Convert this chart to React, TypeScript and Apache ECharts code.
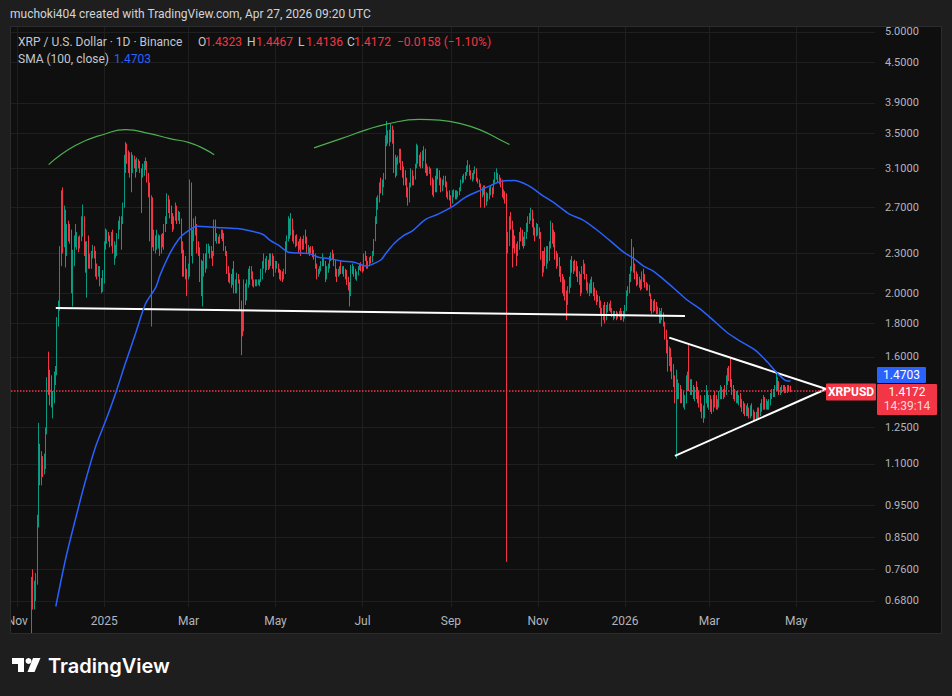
import React, { useEffect, useRef } from "react";
import * as echarts from "echarts";

// ---------- DATA (daily candles: [high, low, close]; open = previous close) ----------
const firstOpen = 0.6;
const nov24 = [[0.74,0.58,0.72],[0.76,0.66,0.69],[0.73,0.66,0.71],[0.75,0.68,0.73],[0.92,0.72,0.9],[1.27,0.88,1.13],[1.18,1.02,1.05],[1.15,1.02,1.13],[1.13,1.05,1.08],[1.14,1.06,1.11],[1.25,1.08,1.23],[1.49,1.22,1.45],[1.63,1.4,1.44],[1.53,1.35,1.4],[1.5,1.34,1.36],[1.42,1.29,1.38],[1.52,1.36,1.48],[1.55,1.45,1.52],[1.84,1.5,1.8],[1.95,1.78,1.9]];
const dec24 = [[2.36,1.88,2.3],[2.87,2.2,2.55],[2.9,2.3,2.5],[2.72,2.35,2.62],[2.68,2.19,2.35],[2.55,2.28,2.5],[2.58,2.4,2.48],[2.55,2.38,2.44],[2.5,2.0,2.17],[2.33,1.91,2.25],[2.45,2.2,2.41],[2.55,2.35,2.42],[2.48,2.33,2.42],[2.44,2.31,2.36],[2.45,2.34,2.44],[2.62,2.4,2.46],[2.73,2.44,2.6],[2.62,2.28,2.3],[2.4,2.15,2.21],[2.4,1.97,2.37],[2.45,2.18,2.23],[2.3,2.18,2.24],[2.32,2.18,2.28],[2.37,2.26,2.33],[2.36,2.26,2.3],[2.32,2.12,2.16],[2.22,2.1,2.15],[2.2,2.12,2.18],[2.2,2.05,2.09],[2.11,2.0,2.06],[2.17,2.01,2.08]];
const jan25 = [[2.4,2.07,2.36],[2.51,2.33,2.44],[2.5,2.38,2.47],[2.48,2.4,2.44],[2.45,2.35,2.4],[2.48,2.36,2.43],[2.5,2.3,2.32],[2.4,2.21,2.33],[2.37,2.26,2.31],[2.47,2.28,2.45],[2.58,2.42,2.55],[2.62,2.5,2.52],[2.62,2.33,2.6],[2.75,2.55,2.73],[3.25,2.7,3.22],[3.4,3.05,3.3],[3.38,3.15,3.24],[3.3,3.05,3.17],[3.28,3.0,3.2],[3.28,2.85,3.12],[3.25,3.05,3.18],[3.24,3.1,3.14],[3.2,3.0,3.1],[3.22,3.06,3.15],[3.2,3.1,3.13],[3.18,3.05,3.08],[3.1,2.65,3.06],[3.15,3.0,3.06],[3.18,3.02,3.12],[3.22,3.08,3.18],[3.18,2.95,3.02]];
const feb25 = [[3.05,2.8,2.85],[2.95,2.4,2.48],[2.82,1.78,2.7],[2.8,2.35,2.45],[2.5,2.32,2.4],[2.45,2.3,2.35],[2.5,2.33,2.37],[2.46,2.34,2.43],[2.45,2.28,2.38],[2.46,2.3,2.43],[2.47,2.35,2.4],[2.55,2.33,2.52],[2.62,2.48,2.58],[2.84,2.55,2.78],[2.82,2.65,2.75],[2.78,2.6,2.65],[2.72,2.55,2.62],[2.65,2.48,2.55],[2.62,2.5,2.6],[2.75,2.58,2.7],[2.72,2.55,2.62],[2.67,2.58,2.62],[2.66,2.55,2.58],[2.6,2.3,2.33],[2.4,2.12,2.28],[2.33,2.12,2.17],[2.28,2.1,2.15],[2.18,1.98,2.14]];
const mar25 = [[2.22,2.1,2.16],[2.98,2.12,2.92],[2.95,2.28,2.38],[2.5,2.22,2.46],[2.6,2.4,2.55],[2.62,2.45,2.5],[2.55,2.3,2.35],[2.4,2.28,2.32],[2.35,2.08,2.12],[2.25,1.98,2.05],[2.24,1.91,2.2],[2.3,2.12,2.25],[2.3,2.15,2.2],[2.38,2.18,2.34],[2.38,2.3,2.34],[2.36,2.26,2.28],[2.36,2.26,2.3],[2.32,2.2,2.28],[2.59,2.28,2.52],[2.59,2.4,2.42],[2.47,2.38,2.42],[2.44,2.38,2.4],[2.46,2.38,2.45],[2.5,2.42,2.48],[2.5,2.4,2.44],[2.47,2.32,2.35],[2.36,2.28,2.32],[2.3,2.14,2.17],[2.2,2.08,2.12],[2.15,2.07,2.1],[2.14,2.04,2.08]];
const apr25 = [[2.18,2.06,2.15],[2.24,2.0,2.03],[2.1,2.0,2.05],[2.15,2.0,2.13],[2.14,2.07,2.1],[2.1,1.88,1.92],[1.95,1.61,1.8],[1.88,1.72,1.78],[2.1,1.75,2.05],[2.07,1.92,1.96],[2.1,1.95,2.08],[2.18,2.04,2.15],[2.2,2.06,2.12],[2.2,2.1,2.14],[2.16,2.05,2.06],[2.1,2.04,2.08],[2.1,2.05,2.06],[2.1,2.05,2.08],[2.1,2.06,2.08],[2.1,2.05,2.09],[2.18,2.08,2.15],[2.24,2.1,2.22],[2.3,2.18,2.22],[2.26,2.15,2.2],[2.28,2.17,2.23],[2.25,2.17,2.2],[2.3,2.18,2.28],[2.3,2.2,2.29],[2.3,2.18,2.25],[2.28,2.12,2.2]];
const may25 = [[2.24,2.15,2.2],[2.24,2.18,2.21],[2.22,2.15,2.17],[2.18,2.1,2.14],[2.17,2.09,2.13],[2.16,2.08,2.12],[2.18,2.1,2.15],[2.4,2.14,2.35],[2.45,2.32,2.42],[2.62,2.4,2.58],[2.6,2.42,2.48],[2.65,2.45,2.55],[2.6,2.4,2.45],[2.5,2.38,2.42],[2.45,2.35,2.4],[2.46,2.36,2.38],[2.4,2.3,2.35],[2.42,2.33,2.4],[2.44,2.28,2.38],[2.42,2.33,2.37],[2.45,2.33,2.43],[2.5,2.38,2.41],[2.44,2.3,2.32],[2.37,2.3,2.34],[2.35,2.28,2.33],[2.36,2.3,2.32],[2.36,2.27,2.31],[2.33,2.25,2.27],[2.3,2.18,2.2],[2.22,2.1,2.14],[2.18,2.12,2.16]];
const jun25 = [[2.2,2.14,2.18],[2.24,2.16,2.22],[2.3,2.2,2.24],[2.26,2.2,2.22],[2.24,2.08,2.11],[2.2,2.1,2.17],[2.22,2.15,2.19],[2.28,2.18,2.27],[2.31,2.24,2.29],[2.33,2.25,2.27],[2.3,2.2,2.22],[2.25,2.12,2.15],[2.18,2.08,2.14],[2.18,2.12,2.16],[2.2,2.13,2.18],[2.24,2.14,2.17],[2.2,2.14,2.17],[2.2,2.12,2.14],[2.18,2.1,2.12],[2.17,2.06,2.09],[2.12,2.02,2.05],[2.08,1.91,2.0],[2.21,1.98,2.18],[2.22,2.14,2.18],[2.2,2.12,2.15],[2.18,2.1,2.12],[2.16,2.09,2.14],[2.2,2.13,2.18],[2.22,2.17,2.2],[2.23,2.16,2.19]];
const jul25 = [[2.21,2.15,2.17],[2.3,2.16,2.28],[2.32,2.24,2.27],[2.28,2.18,2.2],[2.24,2.18,2.22],[2.27,2.2,2.25],[2.28,2.22,2.24],[2.32,2.23,2.3],[2.42,2.28,2.4],[2.62,2.4,2.58],[2.8,2.55,2.75],[2.82,2.68,2.77],[2.95,2.75,2.88],[3.0,2.84,2.86],[2.98,2.82,2.95],[3.05,2.9,3.01],[3.48,2.98,3.45],[3.66,3.35,3.5],[3.54,3.38,3.44],[3.55,3.35,3.5],[3.62,3.4,3.56],[3.6,3.38,3.52],[3.55,3.05,3.15],[3.25,3.0,3.12],[3.22,3.02,3.18],[3.24,3.14,3.19],[3.32,3.16,3.28],[3.32,3.08,3.12],[3.18,3.0,3.08],[3.12,2.92,3.0],[3.08,2.92,2.96]];
const aug25 = [[3.0,2.8,2.84],[2.9,2.72,2.76],[2.95,2.75,2.92],[3.1,2.9,3.05],[3.08,2.92,2.98],[3.02,2.92,3.0],[3.15,2.98,3.12],[3.38,3.1,3.3],[3.36,3.15,3.2],[3.25,3.12,3.18],[3.28,3.1,3.14],[3.3,3.1,3.26],[3.35,3.18,3.3],[3.32,3.05,3.1],[3.15,3.02,3.08],[3.12,3.02,3.08],[3.12,3.04,3.1],[3.1,2.92,2.98],[3.0,2.82,2.86],[2.98,2.8,2.95],[3.02,2.85,2.88],[3.1,2.85,3.05],[3.1,2.98,3.02],[3.08,2.92,2.98],[3.0,2.85,2.88],[2.98,2.86,2.95],[3.02,2.92,2.98],[3.02,2.9,2.95],[2.96,2.8,2.82],[2.86,2.78,2.83],[2.87,2.77,2.79]];
const sep25 = [[2.82,2.7,2.77],[2.87,2.74,2.84],[2.88,2.8,2.85],[2.87,2.78,2.81],[2.87,2.78,2.82],[2.86,2.8,2.84],[2.9,2.82,2.88],[2.98,2.86,2.96],[3.02,2.94,2.98],[3.04,2.95,3.0],[3.06,2.98,3.04],[3.13,3.02,3.1],[3.19,3.06,3.12],[3.14,3.02,3.05],[3.08,2.98,3.0],[3.05,2.96,3.02],[3.08,2.98,3.05],[3.12,3.04,3.08],[3.1,2.96,2.99],[3.0,2.94,2.97],[2.98,2.9,2.93],[2.94,2.7,2.83],[2.9,2.8,2.87],[2.92,2.82,2.9],[2.92,2.7,2.75],[2.85,2.72,2.8],[2.84,2.76,2.81],[2.9,2.78,2.85],[2.92,2.82,2.87],[2.9,2.8,2.84]];
const oct25 = [[2.98,2.83,2.96],[3.06,2.94,3.02],[3.1,2.98,3.03],[3.05,2.95,2.97],[3.03,2.93,2.98],[3.0,2.9,2.96],[2.98,2.8,2.83],[2.88,2.78,2.85],[2.86,2.74,2.8],[2.84,0.78,2.36],[2.48,2.3,2.38],[2.62,2.36,2.58],[2.66,2.5,2.55],[2.58,2.19,2.42],[2.5,2.34,2.4],[2.45,2.3,2.33],[2.38,2.2,2.3],[2.4,2.28,2.37],[2.48,2.33,2.45],[2.52,2.4,2.42],[2.5,2.36,2.4],[2.44,2.34,2.38],[2.48,2.36,2.45],[2.56,2.42,2.52],[2.62,2.48,2.58],[2.65,2.55,2.62],[2.7,2.58,2.63],[2.68,2.52,2.56],[2.6,2.45,2.5],[2.52,2.4,2.44],[2.56,2.44,2.52]];
const nov25 = [[2.55,2.45,2.48],[2.52,2.42,2.46],[2.48,2.25,2.3],[2.32,2.12,2.2],[2.32,2.15,2.28],[2.35,2.2,2.24],[2.36,2.18,2.32],[2.36,2.22,2.27],[2.4,2.24,2.36],[2.58,2.34,2.53],[2.56,2.38,2.42],[2.5,2.35,2.38],[2.48,2.25,2.3],[2.32,2.18,2.25],[2.3,2.2,2.24],[2.27,2.12,2.16],[2.2,2.08,2.12],[2.14,2.0,2.03],[2.12,1.98,2.05],[2.1,1.95,1.98],[2.02,1.82,1.95],[2.05,1.92,2.02],[2.12,2.0,2.08],[2.25,2.04,2.22],[2.28,2.15,2.2],[2.24,2.14,2.21],[2.25,2.16,2.2],[2.24,2.12,2.18],[2.2,2.08,2.12],[2.16,2.06,2.14]];
const dec25 = [[2.14,1.98,2.02],[2.2,2.0,2.16],[2.25,2.14,2.2],[2.22,2.1,2.12],[2.14,2.02,2.05],[2.08,2.0,2.05],[2.07,1.98,2.02],[2.1,2.0,2.06],[2.12,2.0,2.05],[2.08,1.98,2.02],[2.04,1.95,1.99],[2.02,1.92,1.97],[1.99,1.94,1.96],[1.98,1.9,1.93],[1.95,1.85,1.88],[1.9,1.78,1.84],[1.92,1.82,1.86],[1.94,1.8,1.83],[1.92,1.82,1.9],[1.94,1.87,1.91],[1.93,1.88,1.9],[1.95,1.87,1.88],[1.9,1.84,1.86],[1.88,1.82,1.85],[1.88,1.83,1.86],[1.88,1.82,1.84],[1.87,1.83,1.86],[1.88,1.84,1.87],[1.9,1.82,1.85],[1.88,1.82,1.86],[1.88,1.81,1.84]];
const jan26 = [[1.92,1.83,1.9],[2.02,1.88,2.0],[2.05,1.98,2.02],[2.14,2.0,2.1],[2.2,2.08,2.18],[2.42,2.16,2.32],[2.35,2.15,2.2],[2.22,2.1,2.14],[2.16,2.05,2.1],[2.14,2.06,2.09],[2.12,2.04,2.08],[2.1,2.02,2.04],[2.16,2.03,2.14],[2.18,2.08,2.12],[2.14,2.04,2.06],[2.08,2.02,2.05],[2.07,2.02,2.05],[2.06,1.98,2.0],[2.0,1.88,1.92],[1.96,1.86,1.9],[1.95,1.87,1.93],[1.96,1.88,1.91],[1.94,1.86,1.89],[1.91,1.86,1.89],[1.9,1.8,1.84],[1.88,1.8,1.86],[1.9,1.82,1.85],[1.87,1.78,1.8],[1.81,1.7,1.74],[1.76,1.62,1.68],[1.7,1.52,1.6]];
const feb26 = [[1.66,1.55,1.62],[1.65,1.52,1.58],[1.6,1.48,1.52],[1.56,1.44,1.47],[1.5,1.36,1.38],[1.53,1.12,1.46],[1.48,1.38,1.42],[1.46,1.38,1.44],[1.45,1.36,1.4],[1.43,1.36,1.38],[1.42,1.34,1.36],[1.4,1.33,1.37],[1.5,1.36,1.48],[1.52,1.42,1.5],[1.67,1.42,1.44],[1.48,1.4,1.46],[1.48,1.4,1.42],[1.45,1.38,1.4],[1.44,1.37,1.42],[1.47,1.38,1.4],[1.44,1.36,1.38],[1.42,1.34,1.36],[1.4,1.32,1.34],[1.36,1.29,1.32],[1.35,1.27,1.3],[1.4,1.29,1.38],[1.45,1.36,1.41],[1.42,1.34,1.36]];
const mar26 = [[1.4,1.33,1.38],[1.4,1.32,1.35],[1.38,1.31,1.34],[1.4,1.32,1.37],[1.42,1.34,1.36],[1.4,1.33,1.35],[1.38,1.33,1.36],[1.42,1.34,1.4],[1.45,1.38,1.43],[1.44,1.38,1.4],[1.43,1.38,1.42],[1.45,1.39,1.41],[1.5,1.4,1.48],[1.54,1.45,1.52],[1.55,1.47,1.5],[1.6,1.44,1.46],[1.48,1.4,1.42],[1.45,1.38,1.4],[1.43,1.37,1.39],[1.42,1.36,1.4],[1.42,1.36,1.37],[1.4,1.35,1.38],[1.41,1.34,1.36],[1.38,1.32,1.34],[1.37,1.31,1.33],[1.36,1.3,1.32],[1.35,1.3,1.34],[1.36,1.3,1.32],[1.34,1.29,1.31],[1.35,1.29,1.33],[1.36,1.3,1.31]];
const apr26 = [[1.33,1.28,1.3],[1.32,1.28,1.29],[1.32,1.28,1.31],[1.34,1.29,1.33],[1.34,1.29,1.31],[1.36,1.3,1.35],[1.38,1.32,1.34],[1.4,1.33,1.38],[1.39,1.33,1.35],[1.38,1.33,1.36],[1.37,1.33,1.34],[1.38,1.33,1.37],[1.41,1.35,1.4],[1.43,1.38,1.42],[1.43,1.39,1.4],[1.45,1.39,1.44],[1.52,1.42,1.47],[1.49,1.42,1.45],[1.47,1.4,1.42],[1.44,1.4,1.43],[1.45,1.41,1.44],[1.45,1.42,1.43],[1.45,1.41,1.42],[1.44,1.41,1.43],[1.45,1.41,1.44],[1.45,1.42,1.4323],[1.4467,1.4136,1.4172]];

const monthBlocks: [string, number[][]][] = [
  ["2024-11-11", nov24], ["2024-12-01", dec24], ["2025-01-01", jan25], ["2025-02-01", feb25],
  ["2025-03-01", mar25], ["2025-04-01", apr25], ["2025-05-01", may25], ["2025-06-01", jun25],
  ["2025-07-01", jul25], ["2025-08-01", aug25], ["2025-09-01", sep25], ["2025-10-01", oct25],
  ["2025-11-01", nov25], ["2025-12-01", dec25], ["2026-01-01", jan26], ["2026-02-01", feb26],
  ["2026-03-01", mar26], ["2026-04-01", apr26],
];

// SMA(100, close)
const sma100: [string, number][] = [
  ["2024-11-28",0.667],["2024-12-05",0.79],["2024-12-12",0.91],["2024-12-19",1.04],["2024-12-26",1.17],
  ["2025-01-02",1.28],["2025-01-09",1.41],["2025-01-16",1.57],["2025-01-23",1.74],["2025-01-30",1.93],
  ["2025-02-06",2.04],["2025-02-09",2.13],["2025-02-16",2.3],["2025-02-23",2.43],["2025-03-02",2.5],
  ["2025-03-07",2.53],["2025-03-21",2.52],["2025-04-04",2.51],["2025-04-13",2.49],["2025-04-22",2.46],
  ["2025-04-27",2.41],["2025-05-04",2.36],["2025-05-10",2.31],["2025-05-24",2.3],["2025-05-31",2.27],
  ["2025-06-07",2.26],["2025-06-16",2.24],["2025-06-25",2.23],["2025-07-04",2.2],["2025-07-09",2.22],
  ["2025-07-14",2.25],["2025-07-18",2.31],["2025-07-23",2.38],["2025-07-30",2.45],["2025-08-05",2.49],
  ["2025-08-14",2.59],["2025-08-23",2.64],["2025-09-02",2.71],["2025-09-11",2.8],["2025-09-20",2.86],
  ["2025-09-29",2.92],["2025-10-06",2.96],["2025-10-15",2.97],["2025-10-25",2.92],["2025-11-04",2.82],
  ["2025-11-13",2.74],["2025-11-23",2.64],["2025-12-02",2.59],["2025-12-11",2.51],["2025-12-21",2.41],
  ["2025-12-31",2.31],["2026-01-07",2.26],["2026-01-14",2.2],["2026-01-21",2.16],["2026-01-28",2.1],
  ["2026-02-06",2.02],["2026-02-14",1.95],["2026-02-23",1.89],["2026-03-05",1.81],["2026-03-14",1.74],
  ["2026-03-23",1.69],["2026-04-02",1.64],["2026-04-11",1.57],["2026-04-18",1.51],["2026-04-25",1.47],
  ["2026-04-27",1.4703],
];

// drawings
const arcLeft: [string, number][] = [["2024-11-23",3.14],["2024-12-12",3.36],["2025-01-02",3.5],["2025-01-16",3.55],["2025-02-02",3.5],["2025-02-16",3.44],["2025-03-02",3.39],["2025-03-13",3.31],["2025-03-19",3.25]];
const arcRight: [string, number][] = [["2025-05-28",3.33],["2025-06-16",3.44],["2025-07-04",3.55],["2025-07-18",3.62],["2025-08-10",3.68],["2025-08-24",3.67],["2025-09-07",3.63],["2025-09-21",3.55],["2025-10-05",3.43],["2025-10-12",3.37]];
const neckline: [string, number][] = [["2024-11-28",1.9],["2026-02-12",1.847]];
const triUpper: [string, number][] = [["2026-02-01",1.712],["2026-05-22",1.43]];
const triLower: [string, number][] = [["2026-02-05",1.131],["2026-05-22",1.43]];

const priceTicks = [5.0, 4.5, 3.9, 3.5, 3.1, 2.7, 2.3, 2.0, 1.8, 1.6, 1.25, 1.1, 0.95, 0.85, 0.76, 0.68];
const monthTicks = ["2024-11-01","2025-01-01","2025-03-01","2025-05-01","2025-07-01","2025-09-01","2025-11-01","2026-01-01","2026-03-01","2026-05-01"];
const monthNames = ["Jan","Feb","Mar","Apr","May","Jun","Jul","Aug","Sep","Oct","Nov","Dec"];

const headerText = "muchoki404 created with TradingView.com, Apr 27, 2026 09:20 UTC";
const titleText = "XRP / U.S. Dollar · 1D · Binance";
const ohlcLabels = ["O", "H", "L", "C"];
const ohlcValues = ["1.4323", "1.4467", "1.4136", "1.4172"];
const changeText = "−0.0158 (−1.10%)";
const smaTitle = "SMA (100, close)";
const smaValueText = "1.4703";
const countdown = "14:39:14";

// ---------- helpers ----------
const DAY = 86400000;
const ts = (s: string) => Date.parse(s + "T00:00:00Z");
const FONT = "Roboto, 'Noto Sans', 'DejaVu Sans', sans-serif";
const OUTER = "#1e1e1e";
const BG = "#0f0f0f";
const UP = "#089981";
const DOWN = "#f23645";
const GRIDC = "#1f1f1f";
const X_MIN = Date.UTC(2024, 9, 27, 14, 24);
const X_MAX = Date.UTC(2026, 5, 25, 5);

function buildCandles() {
  const out: number[][] = [];
  let prev = firstOpen;
  for (const [start, rows] of monthBlocks) {
    const t0 = ts(start);
    rows.forEach(([h, l, c], i) => {
      const o = prev;
      out.push([t0 + i * DAY, Math.log(o), Math.log(c), Math.log(Math.min(l, o, c)), Math.log(Math.max(h, o, c))]);
      prev = c;
    });
  }
  return out;
}
const toLine = (arr: [string, number][]) => arr.map(([d, v]) => [ts(d), Math.log(v)]);

export default function App() {
  const ref = useRef<HTMLDivElement>(null);
  useEffect(() => {
    const chart = echarts.init(ref.current!, null, { renderer: "svg" });
    const candles = buildCandles();
    const lastClose = apr26[apr26.length - 1][2];
    const tickLn = priceTicks.map((p) => Math.log(p));
    const monthTs = monthTicks.map(ts);

    const annot = (data: any, color: string, width: number, smooth: any) => ({
      type: "line", data, showSymbol: false, smooth, silent: true, z: 4,
      lineStyle: { color, width }, clip: true,
    });

    chart.setOption({
      animation: false,
      backgroundColor: BG,
      grid: { left: 11, right: 77, top: 27, bottom: 89, containLabel: false },
      xAxis: {
        type: "value", min: X_MIN, max: X_MAX, scale: true,
        axisLine: { show: false },
        axisTick: { show: false, customValues: monthTs },
        splitLine: { show: true, lineStyle: { color: GRIDC, width: 1 } },
        axisLabel: {
          customValues: monthTs,
          margin: 8, color: "#b2b5be", fontSize: 12, fontFamily: FONT,
          formatter: (v: number) => {
            const d = new Date(v);
            const m = d.getUTCMonth();
            return m === 0 ? String(d.getUTCFullYear()) : monthNames[m];
          },
        },
      },
      yAxis: {
        type: "value", position: "right", scale: true,
        min: Math.log(0.6658), max: Math.log(5.088),
        axisLine: { show: false },
        axisTick: { show: false, customValues: tickLn },
        splitLine: { show: true, lineStyle: { color: GRIDC, width: 1 } },
        axisLabel: {
          customValues: tickLn, margin: 10, color: "#b2b5be", fontSize: 11, fontFamily: FONT,
          formatter: (v: number) => Math.exp(v).toFixed(4),
        },
      },
      series: [
        {
          type: "candlestick", name: "XRPUSD", data: candles, barWidth: 0.8, z: 3,
          itemStyle: { color: UP, color0: DOWN, borderColor: UP, borderColor0: DOWN, borderWidth: 1 },
          markLine: {
            silent: true, symbol: "none", animation: false,
            label: { show: false },
            lineStyle: { color: DOWN, type: [1.5, 1.5], width: 1.5, opacity: 1 },
            data: [{ yAxis: Math.log(lastClose) }],
          },
        },
        { type: "line", name: "SMA", data: toLine(sma100), showSymbol: false, smooth: 0.3, z: 5,
          lineStyle: { color: "#2962ff", width: 1.5 }, silent: true },
        annot(toLine(arcLeft), "#4caf50", 1.2, true),
        annot(toLine(arcRight), "#4caf50", 1.2, true),
        annot(toLine(neckline), "#ffffff", 2, false),
        annot(toLine(triUpper), "#ffffff", 2, false),
        annot(toLine(triLower), "#ffffff", 2, false),
      ],
    });

    const [gxRight, py] = chart.convertToPixel({ gridIndex: 0 }, [X_MAX, Math.log(lastClose)]) as number[];
    const redTop = Math.round(py) - 8;

    const txt = (x: number, y: number, text: string, fill: string, size = 12, extra: any = {}) => ({
      type: "text", x, y, silent: true, z: 100,
      style: { text, fill, fontSize: size, fontFamily: FONT, verticalAlign: "middle", align: "left", ...extra },
    });

    const graphics: any[] = [
      { type: "rect", shape: { x: 0, y: 0, width: 952, height: 27 }, style: { fill: OUTER }, silent: true, z: 90 },
      { type: "rect", shape: { x: 0, y: 634, width: 952, height: 62 }, style: { fill: OUTER }, silent: true, z: 90 },
      { type: "rect", shape: { x: 0, y: 0, width: 10, height: 696 }, style: { fill: OUTER }, silent: true, z: 90 },
      { type: "rect", shape: { x: 942, y: 0, width: 10, height: 696 }, style: { fill: OUTER }, silent: true, z: 90 },
      { type: "rect", shape: { x: 10.5, y: 26.5, width: 931, height: 607 }, style: { fill: "none", stroke: "#2c2c2c", lineWidth: 1 }, silent: true, z: 91 },
      txt(10, 14, headerText, "#d1d4dc", 12),
      txt(18, 42, titleText, "#c3c6ce", 12),
      txt(198, 42, ohlcLabels[0], "#c3c6ce", 12), txt(205, 42, ohlcValues[0], DOWN, 12),
      txt(247, 42, ohlcLabels[1], "#c3c6ce", 12), txt(256, 42, ohlcValues[1], DOWN, 12),
      txt(298, 42, ohlcLabels[2], "#c3c6ce", 12), txt(306, 42, ohlcValues[2], DOWN, 12),
      txt(347, 42, ohlcLabels[3], "#c3c6ce", 12), txt(354, 42, ohlcValues[3], DOWN, 12),
      txt(397, 42, changeText, DOWN, 12),
      txt(18, 59, smaTitle, "#c3c6ce", 12),
      txt(114, 59, smaValueText, "#2962ff", 12),
      { type: "rect", shape: { x: gxRight - 49, y: Math.round(py) - 8.5, width: 50, height: 17, r: 1 }, style: { fill: DOWN }, silent: true, z: 95 },
      txt(gxRight - 24, Math.round(py), "XRPUSD", "#ffffff", 12, { align: "center", fontWeight: "bold" }),
      { type: "rect", shape: { x: gxRight + 2, y: redTop - 17, width: 49, height: 16, r: 1 }, style: { fill: "#2962ff" }, silent: true, z: 95 },
      txt(gxRight + 26.5, redTop - 9, smaValueText, "#ffffff", 12, { align: "center" }),
      { type: "rect", shape: { x: gxRight + 2, y: redTop, width: 60, height: 31, r: 1 }, style: { fill: DOWN }, silent: true, z: 95 },
      txt(gxRight + 32, redTop + 8, ohlcValues[3], "#ffffff", 12, { align: "center" }),
      txt(gxRight + 32, redTop + 22, countdown, "#fbd5d9", 12, { align: "center" }),
      { type: "polygon", shape: { points: [[12, 658], [24, 658], [24, 672], [18, 672], [18, 664], [12, 664]] }, style: { fill: "#ffffff" }, silent: true, z: 100 },
      { type: "circle", shape: { cx: 28.5, cy: 661, r: 3 }, style: { fill: "#ffffff" }, silent: true, z: 100 },
      { type: "polygon", shape: { points: [[33, 658], [40.5, 658], [34.5, 672], [27.5, 672]] }, style: { fill: "#ffffff" }, silent: true, z: 100 },
      txt(48, 666, "TradingView", "#ffffff", 20, { fontWeight: 600, fontFamily: "Inter, Roboto, sans-serif" }),
    ];
    chart.setOption({ graphic: graphics });
    return () => chart.dispose();
  }, []);
  return <div ref={ref} style={{ position: "fixed", left: 0, top: 0, width: 952, height: 696 }} />;
}
